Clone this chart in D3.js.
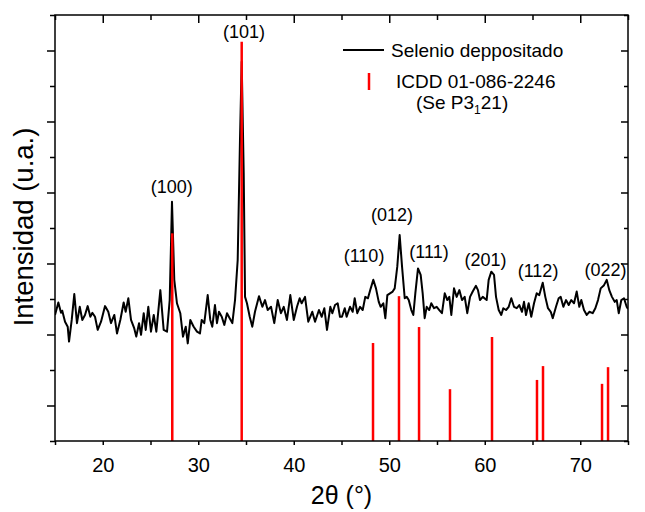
<!DOCTYPE html>
<html>
<head>
<meta charset="utf-8">
<script src="https://cdn.jsdelivr.net/npm/d3@7/dist/d3.min.js"></script>
<style>
  body { margin: 0; background: #fff; }
  svg { font-family: "Liberation Sans", Arial, sans-serif; }
</style>
</head>
<body>
<div id="chart"></div>
<script>
// difractograma medido (2theta, intensidad en u.a.)
var twoTheta = [15.00, 15.35, 15.63, 15.76, 16.05, 16.33, 16.47, 16.75, 17.02, 17.30, 17.59, 17.86, 18.14, 18.42, 18.70, 18.91,
  19.19, 19.47, 19.82, 20.24, 20.58, 20.86, 21.21, 21.49, 21.84, 22.19, 22.40, 22.68, 22.96, 23.30, 23.51, 23.80,
  24.01, 24.29, 24.50, 24.77, 25.05, 25.34, 25.61, 26.03, 26.38, 26.73, 27.01, 27.25, 27.49, 27.77, 28.12, 28.40,
  28.69, 28.90, 29.17, 29.52, 29.87, 30.18, 30.36, 30.63, 30.99, 31.26, 31.47, 31.75, 31.96, 32.17, 32.46, 32.73,
  33.01, 33.29, 33.57, 33.85, 34.13, 34.37, 34.55, 34.76, 34.90, 35.10, 35.39, 35.66, 35.94, 36.36, 36.71, 36.99,
  37.27, 37.62, 37.96, 38.32, 38.66, 38.95, 39.29, 39.64, 40.00, 40.34, 40.62, 40.83, 41.18, 41.52, 41.94, 42.23,
  42.64, 42.93, 43.20, 43.48, 43.83, 44.04, 44.32, 44.60, 44.84, 45.05, 45.34, 45.54, 45.89, 46.17, 46.38, 46.65,
  46.94, 47.22, 47.49, 47.77, 48.06, 48.33, 48.61, 48.90, 49.10, 49.38, 49.59, 49.80, 50.08, 50.36, 50.57, 50.84,
  51.09, 51.34, 51.62, 51.83, 52.04, 52.31, 52.52, 52.73, 53.01, 53.29, 53.50, 53.71, 53.92, 54.19, 54.40, 54.69,
  54.97, 55.24, 55.52, 55.81, 56.08, 56.29, 56.50, 56.78, 57.06, 57.34, 57.62, 57.90, 58.17, 58.46, 58.74, 59.08,
  59.29, 59.50, 59.79, 60.20, 60.41, 60.69, 60.97, 61.18, 61.46, 61.73, 61.94, 62.23, 62.51, 62.78, 63.06, 63.35,
  63.62, 63.90, 64.11, 64.32, 64.60, 64.87, 65.16, 65.44, 65.71, 66.07, 66.34, 66.62, 66.91, 67.12, 67.46, 67.74,
  67.95, 68.23, 68.51, 68.79, 69.06, 69.35, 69.63, 69.90, 70.11, 70.39, 70.68, 70.95, 71.30, 71.58, 71.86, 72.14,
  72.49, 72.77, 73.04, 73.32, 73.61, 73.82, 74.03, 74.30, 74.58, 74.86, 75.00];
var counts = [355, 390, 361, 367, 336, 322, 280, 341, 414, 332, 378, 341, 355, 380, 350, 361,
  350, 313, 336, 380, 364, 332, 355, 303, 341, 390, 364, 402, 341, 317, 294, 332,
  299, 360, 313, 378, 308, 355, 308, 425, 313, 308, 397, 674, 454, 388, 360, 294,
  322, 275, 341, 322, 308, 303, 341, 332, 411, 341, 322, 383, 332, 364, 350, 327,
  360, 346, 332, 397, 510, 848, 1068, 755, 406, 388, 350, 322, 364, 408, 378, 397,
  369, 378, 332, 397, 360, 378, 341, 411, 341, 378, 402, 388, 406, 336, 364, 336,
  369, 350, 374, 313, 378, 360, 383, 388, 350, 350, 374, 350, 378, 364, 402, 360,
  378, 369, 406, 402, 430, 454, 430, 392, 378, 388, 346, 411, 416, 421, 430, 491,
  580, 491, 402, 406, 397, 369, 355, 416, 486, 468, 416, 346, 378, 369, 388, 374,
  378, 369, 360, 416, 397, 406, 355, 430, 406, 425, 397, 406, 360, 406, 421, 437,
  425, 397, 406, 397, 454, 477, 468, 406, 369, 355, 374, 369, 378, 402, 378, 374,
  383, 364, 392, 355, 388, 350, 388, 416, 411, 446, 406, 374, 364, 346, 378, 402,
  406, 378, 397, 383, 397, 388, 421, 378, 397, 369, 355, 364, 360, 374, 397, 430,
  439, 454, 425, 406, 392, 397, 360, 397, 402, 378, 372];

// patron de referencia ICDD 01-086-2246
var refAngles = [27.28, 34.55, 48.30, 51.02, 53.12, 56.36, 60.76, 65.47, 66.10, 72.28, 72.91];
var refHeights = [585, 1125, 276, 408, 321, 146, 293, 172, 211, 161, 208];

// indices de Miller y donde se escriben
var peakLabels = ["(100)", "(101)", "(110)", "(012)", "(111)", "(201)", "(112)", "(022)"];
var peakLabelAngle = [27.22, 34.79, 47.36, 50.29, 54.16, 60.08, 65.58, 72.64];
var peakLabelLevel = [699, 1135, 504, 620, 515, 493, 462, 465];

var xMajor = [20, 30, 40, 50, 60, 70];
var xMinor = [15, 25, 35, 45, 55, 65, 75];
var yMajor = [100, 300, 500, 700, 900, 1100];
var yMinor = [0, 200, 400, 600, 800, 1000, 1200];

var width = 645, height = 512;
var mLeft = 55, mRight = 628, mTop = 15, mBottom = 441;

var x = d3.scaleLinear().domain([15, 75]).range([mLeft, mRight]);
var y = d3.scaleLinear().domain([0, 1200]).range([mBottom, mTop]);

var svg = d3.select("#chart").append("svg")
    .attr("width", width)
    .attr("height", height);

svg.append("clipPath").attr("id", "clip")
  .append("rect")
    .attr("x", mLeft).attr("y", mTop)
    .attr("width", mRight - mLeft).attr("height", mBottom - mTop);

// ejes
function ticks(axis, vals, size) {
    return axis.tickValues(vals).tickSizeInner(size).tickSizeOuter(0);
}

var bx = svg.append("g").attr("transform", "translate(0," + mBottom + ")")
    .call(ticks(d3.axisBottom(x), xMajor, 4).tickPadding(13).tickFormat(d3.format("d")));
svg.append("g").attr("transform", "translate(0," + mBottom + ")")
    .call(ticks(d3.axisBottom(x), xMinor, 4).tickFormat(""));
svg.append("g").attr("transform", "translate(0," + mTop + ")")
    .call(ticks(d3.axisTop(x), xMajor, -8).tickFormat(""));
svg.append("g").attr("transform", "translate(0," + mTop + ")")
    .call(ticks(d3.axisTop(x), xMinor, -5).tickFormat(""));
svg.append("g").attr("transform", "translate(" + mLeft + ",0)")
    .call(ticks(d3.axisLeft(y), yMajor, 8).tickFormat(""));
svg.append("g").attr("transform", "translate(" + mLeft + ",0)")
    .call(ticks(d3.axisLeft(y), yMinor, 5).tickFormat(""));
svg.append("g").attr("transform", "translate(" + mRight + ",0)")
    .call(ticks(d3.axisRight(y), yMajor, -7).tickFormat(""));
svg.append("g").attr("transform", "translate(" + mRight + ",0)")
    .call(ticks(d3.axisRight(y), yMinor, -4).tickFormat(""));

svg.selectAll(".domain").remove();
svg.selectAll(".tick line").attr("stroke", "#000").attr("stroke-width", 1.5);
bx.selectAll("text")
    .attr("font-size", 20)
    .attr("fill", "#000")
    .attr("font-family", "Liberation Sans, Arial, sans-serif");

// curva medida
var line = d3.line()
    .x(function (d, i) { return x(twoTheta[i]); })
    .y(function (d) { return y(d); });

svg.append("path")
    .datum(counts)
    .attr("clip-path", "url(#clip)")
    .attr("d", line)
    .attr("fill", "none")
    .attr("stroke", "#000")
    .attr("stroke-width", 2)
    .attr("stroke-linejoin", "round");

// barras de referencia
svg.append("g").selectAll("line")
    .data(refAngles)
    .join("line")
    .attr("x1", function (d) { return x(d); })
    .attr("x2", function (d) { return x(d); })
    .attr("y1", y(0))
    .attr("y2", function (d, i) { return y(refHeights[i]); })
    .attr("stroke", "#f00")
    .attr("stroke-width", 2.5);

// marco
svg.append("rect")
    .attr("x", mLeft).attr("y", mTop)
    .attr("width", mRight - mLeft).attr("height", mBottom - mTop)
    .attr("fill", "none")
    .attr("stroke", "#000")
    .attr("stroke-width", 1.5);

// etiquetas de picos
svg.append("g").selectAll("text")
    .data(peakLabels)
    .join("text")
    .attr("x", function (d, i) { return x(peakLabelAngle[i]); })
    .attr("y", function (d, i) { return y(peakLabelLevel[i]); })
    .attr("text-anchor", "middle")
    .attr("font-size", 18)
    .text(function (d) { return d; });

// leyenda
var lg = svg.append("g");
lg.append("line")
    .attr("x1", 343).attr("x2", 384).attr("y1", 50).attr("y2", 50)
    .attr("stroke", "#000").attr("stroke-width", 2);
lg.append("text").attr("x", 391).attr("y", 57).attr("font-size", 19)
    .text("Selenio deppositado");
lg.append("line")
    .attr("x1", 369).attr("x2", 369).attr("y1", 73).attr("y2", 90)
    .attr("stroke", "#f00").attr("stroke-width", 2.5);
lg.append("text").attr("x", 396).attr("y", 88).attr("font-size", 19)
    .text("ICDD 01-086-2246");
var sg = lg.append("text").attr("x", 416).attr("y", 109).attr("font-size", 19);
sg.append("tspan").text("(Se P3");
sg.append("tspan").attr("font-size", 12).attr("dy", 5).text("1");
sg.append("tspan").attr("dy", -5).text("21)");

// titulos de ejes
svg.append("text")
    .attr("x", (mLeft + mRight) / 2)
    .attr("y", 504)
    .attr("text-anchor", "middle")
    .attr("font-size", 25)
    .text("2\u03b8 (\u00b0)");

svg.append("text")
    .attr("transform", "translate(33," + 227 + ") rotate(-90)")
    .attr("text-anchor", "middle")
    .attr("font-size", 27.5)
    .text("Intensidad (u.a.)");
</script>
</body>
</html>
